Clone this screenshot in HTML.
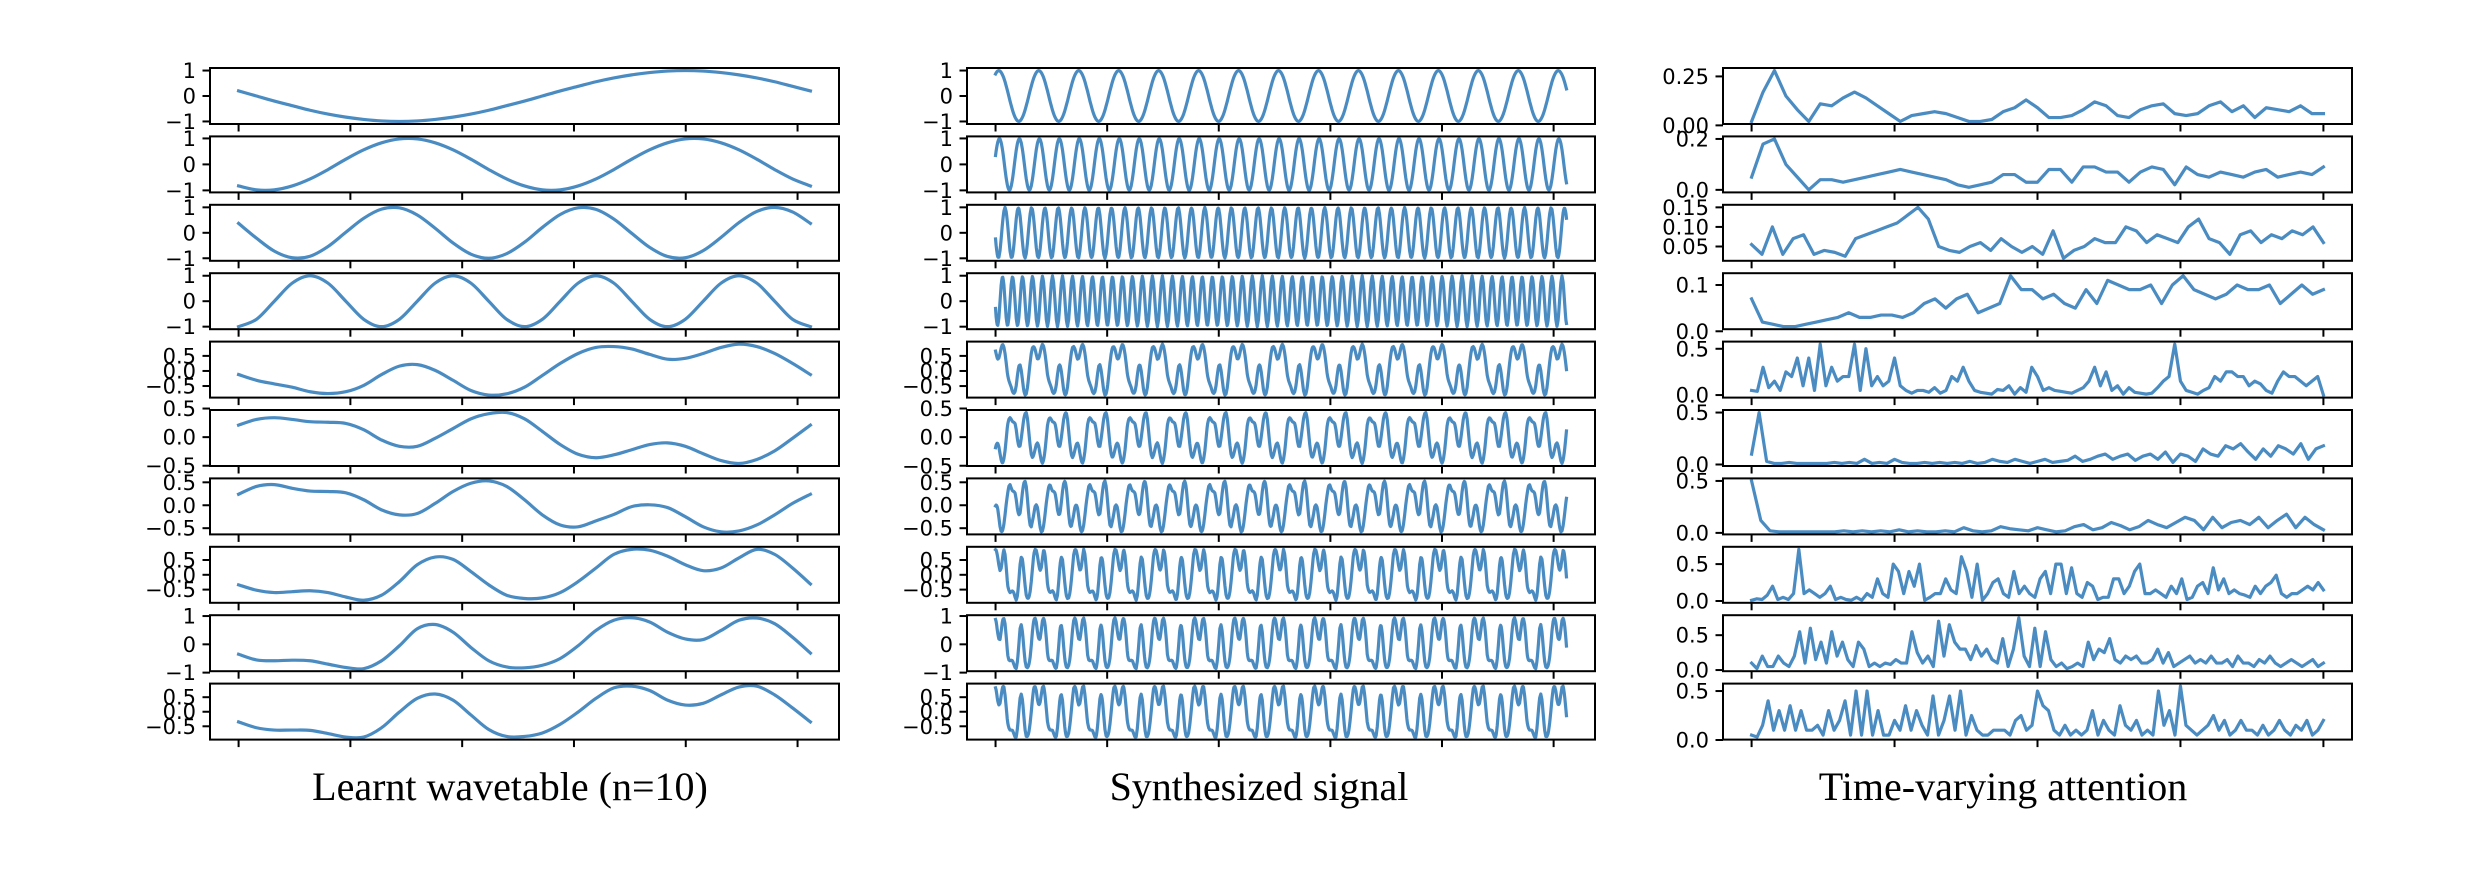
<!DOCTYPE html>
<html><head><meta charset="utf-8"><style>
html,body{margin:0;padding:0;background:#fff;}
svg{display:block;}
</style></head><body>
<svg id="fig" xmlns="http://www.w3.org/2000/svg" width="2480" height="878" viewBox="0 0 2480 878">
<rect x="0" y="0" width="2480" height="878" fill="#fff"/>
<g id="panels"></g>
<text x="510" y="800" text-anchor="middle" font-family="Liberation Serif, serif" font-size="40">Learnt wavetable (n=10)</text>
<text x="1259" y="800" text-anchor="middle" font-family="Liberation Serif, serif" font-size="40">Synthesized signal</text>
<text x="2003" y="800" text-anchor="middle" font-family="Liberation Serif, serif" font-size="40">Time-varying attention</text>
</svg>
<script>
// ---- wavetables (33 samples over one table period) ----
const wave1=[0.20,0,-0.20,-0.38,-0.56,-0.71,-0.83,-0.92,-0.98,-1,-0.98,-0.92,-0.83,-0.71,-0.56,-0.38,-0.20,0,0.20,0.38,0.56,0.71,0.83,0.92,0.98,1,0.98,0.92,0.83,0.71,0.56,0.38,0.20];
const wave2=[-0.83,-0.98,-0.98,-0.83,-0.56,-0.20,0.20,0.56,0.83,0.98,0.98,0.83,0.56,0.20,-0.20,-0.56,-0.83,-0.98,-0.98,-0.83,-0.56,-0.20,0.20,0.56,0.83,0.98,0.98,0.83,0.56,0.20,-0.20,-0.56,-0.83];
const wave3=[0.37,-0.21,-0.72,-0.98,-0.92,-0.54,0.02,0.57,0.93,0.98,0.70,0.18,-0.40,-0.84,-1.0,-0.82,-0.37,0.21,0.72,0.98,0.92,0.54,-0.02,-0.57,-0.93,-0.98,-0.70,-0.18,0.40,0.84,1.0,0.82,0.37];
const wave4=[-1,-0.71,0,0.71,1,0.71,0,-0.71,-1,-0.71,0,0.71,1,0.71,0,-0.71,-1,-0.71,0,0.71,1,0.71,0,-0.71,-1,-0.71,0,0.71,1,0.71,0,-0.71,-1];
const wave5=[-0.12,-0.31,-0.43,-0.54,-0.69,-0.75,-0.69,-0.48,-0.12,0.16,0.21,0.02,-0.31,-0.65,-0.80,-0.76,-0.54,-0.15,0.25,0.58,0.78,0.81,0.73,0.55,0.39,0.42,0.58,0.78,0.89,0.81,0.58,0.25,-0.12];
const wave6=[0.21,0.31,0.34,0.31,0.27,0.26,0.24,0.13,-0.05,-0.16,-0.16,-0.02,0.15,0.32,0.41,0.43,0.32,0.10,-0.13,-0.30,-0.36,-0.31,-0.22,-0.13,-0.10,-0.16,-0.29,-0.41,-0.46,-0.39,-0.24,-0.02,0.21];
const wave7=[0.24,0.41,0.45,0.37,0.31,0.30,0.27,0.12,-0.10,-0.21,-0.18,0.04,0.30,0.48,0.53,0.41,0.12,-0.21,-0.43,-0.47,-0.34,-0.20,-0.03,0.01,-0.05,-0.25,-0.47,-0.58,-0.56,-0.43,-0.21,0.04,0.24];
const wave8=[-0.34,-0.52,-0.60,-0.57,-0.54,-0.60,-0.75,-0.86,-0.69,-0.23,0.34,0.60,0.52,0.11,-0.34,-0.69,-0.80,-0.78,-0.60,-0.23,0.23,0.69,0.86,0.83,0.63,0.34,0.14,0.23,0.57,0.86,0.69,0.23,-0.31];
const wave9=[-0.35,-0.55,-0.58,-0.56,-0.58,-0.70,-0.82,-0.86,-0.58,-0.05,0.55,0.70,0.43,-0.11,-0.58,-0.80,-0.83,-0.74,-0.50,-0.05,0.49,0.85,0.94,0.79,0.43,0.19,0.17,0.49,0.85,0.93,0.73,0.25,-0.31];
const wave10=[-0.35,-0.55,-0.63,-0.63,-0.64,-0.75,-0.87,-0.87,-0.55,-0.01,0.46,0.61,0.40,-0.11,-0.61,-0.85,-0.85,-0.73,-0.43,-0.01,0.46,0.82,0.88,0.73,0.40,0.23,0.29,0.58,0.85,0.88,0.58,0.13,-0.35];
// ---- synthesis parameters ----
const synthCycles=14.3;
const synthPhase=0.7;
const synthLength=1024;
// ---- attention weights ----
const attn1=[.02,.17,.28,.15,.08,.02,.11,.1,.14,.17,.14,.1,.06,.02,.05,.06,.07,.06,.04,.02,.02,.03,.07,.09,.13,.09,.04,.04,.05,.08,.12,.1,.05,.04,.08,.1,.11,.06,.05,.06,.1,.12,.07,.1,.04,.09,.08,.07,.1,.06,.06];
const attn2=[.05,.18,.2,.1,.05,.0,.04,.04,.03,.04,.05,.06,.07,.08,.07,.06,.05,.04,.02,.01,.02,.03,.06,.06,.03,.03,.08,.08,.03,.09,.09,.07,.07,.03,.07,.09,.08,.02,.09,.06,.05,.07,.06,.05,.07,.08,.05,.06,.07,.06,.09];
const attn3=[.055,.03,.1,.03,.07,.08,.03,.04,.035,.025,.07,.08,.09,.1,.11,.13,.15,.12,.05,.04,.035,.05,.06,.04,.07,.05,.035,.05,.03,.09,.02,.04,.05,.07,.06,.06,.1,.09,.06,.08,.07,.06,.1,.12,.07,.06,.03,.08,.09,.06,.08,.07,.09,.08,.1,.06];
const attn4=[.07,.02,.015,.01,.01,.015,.02,.025,.03,.04,.03,.03,.035,.035,.03,.04,.06,.07,.05,.07,.08,.04,.05,.06,.12,.09,.09,.07,.08,.06,.05,.09,.06,.11,.1,.09,.09,.1,.06,.1,.12,.09,.08,.07,.08,.1,.09,.09,.1,.06,.08,.1,.08,.09];
const attn5=[.05,.04,.3,.08,.15,.05,.25,.2,.4,.1,.4,.05,.55,.1,.3,.15,.2,.2,.55,.05,.5,.1,.2,.1,.15,.4,.1,.05,.02,.05,.05,.03,.08,.02,.05,.2,.15,.3,.15,.05,.03,.02,.01,.06,.05,.1,.01,.08,.03,.3,.2,.05,.08,.05,.04,.03,.02,.05,.08,.15,.3,.1,.25,.05,.1,.01,.08,.03,.02,.01,.02,.08,.15,.2,.55,.15,.05,.03,.01,.05,.08,.2,.15,.25,.25,.2,.2,.1,.15,.12,.05,.02,.15,.25,.2,.2,.15,.1,.15,.2,0];
const attn6=[.1,.5,.03,.01,.01,.02,.01,.01,.01,.01,.01,.02,.01,.02,.01,.05,.01,.02,.01,.05,.02,.01,.01,.02,.01,.02,.01,.02,.01,.03,.01,.02,.05,.03,.02,.05,.03,.01,.03,.05,.02,.03,.04,.08,.03,.05,.08,.1,.05,.08,.1,.04,.08,.1,.05,.12,.02,.1,.08,.03,.15,.1,.08,.18,.15,.2,.12,.05,.15,.08,.18,.15,.1,.2,.05,.15,.18];
const attn7=[.5,.12,.02,.01,.01,.01,.01,.01,.01,.01,.02,.01,.02,.01,.02,.01,.03,.01,.02,.01,.01,.02,.01,.05,.02,.01,.02,.06,.04,.03,.02,.05,.03,.01,.02,.06,.08,.03,.05,.1,.07,.03,.06,.12,.08,.05,.1,.15,.12,.03,.15,.05,.1,.12,.08,.15,.05,.12,.18,.05,.15,.08,.03];
const attn8=[.01,.03,.02,.08,.2,.02,.05,.02,.1,.7,.1,.15,.1,.05,.1,.2,.02,.05,.02,.01,.05,.01,.1,.05,.3,.1,.05,.5,.4,.1,.4,.2,.5,.01,.05,.1,.1,.3,.15,.1,.6,.4,.05,.5,.01,.1,.25,.3,.1,.05,.4,.1,.2,.1,.05,.3,.4,.1,.5,.5,.1,.45,.1,.05,.25,.2,.02,.05,.05,.3,.3,.1,.2,.4,.5,.1,.1,.15,.1,.05,.2,.1,.3,.02,.05,.2,.25,.1,.45,.15,.3,.1,.15,.1,.08,.05,.2,.1,.2,.25,.35,.1,.05,.1,.1,.15,.2,.15,.25,.15];
const attn9=[.1,.02,.2,.05,.05,.2,.1,.05,.2,.55,.1,.6,.15,.4,.1,.55,.2,.4,.15,.05,.4,.3,.05,.1,.05,.1,.08,.15,.1,.1,.55,.25,.1,.2,.05,.7,.2,.65,.4,.3,.3,.15,.35,.2,.3,.15,.1,.45,.05,.3,.75,.2,.05,.6,.05,.55,.15,.05,.1,.02,.05,.1,.05,.4,.15,.3,.25,.45,.15,.1,.2,.15,.2,.1,.1,.15,.3,.1,.25,.05,.1,.15,.2,.1,.15,.1,.2,.1,.1,.15,.05,.2,.1,.1,.05,.15,.1,.2,.1,.05,.1,.15,.1,.05,.1,.15,.05,.1];
const attn10=[.05,.03,.15,.4,.1,.3,.1,.35,.1,.3,.1,.1,.15,.05,.3,.1,.2,.4,.05,.5,.05,.5,.05,.3,.05,.05,.2,.1,.35,.1,.3,.15,.05,.45,.05,.2,.45,.1,.5,.05,.25,.1,.05,.05,.1,.1,.1,.05,.2,.25,.1,.15,.5,.35,.3,.1,.05,.15,.05,.1,.05,.1,.3,.05,.2,.1,.05,.35,.15,.1,.2,.05,.1,.05,.5,.15,.3,.05,.55,.15,.1,.05,.1,.15,.25,.1,.2,.05,.1,.2,.1,.1,.05,.15,.05,.1,.2,.1,.05,.15,.1,.2,.05,.1,.2];
// ---- tick arrays ----
const xTicksWave=[0,200,400,600,800,1000];
const xTicksAttn=[0,50,100,150,200];
const yTicksWave=[[-1,0,1],[-1,0,1],[-1,0,1],[-1,0,1],[-0.5,0,0.5],[-0.5,0,0.5],[-0.5,0,0.5],[-0.5,0,0.5],[-1,0,1],[-0.5,0,0.5]];
const yLabelsWave=[["−1","0","1"],["−1","0","1"],["−1","0","1"],["−1","0","1"],["−0.5","0.0","0.5"],["−0.5","0.0","0.5"],["−0.5","0.0","0.5"],["−0.5","0.0","0.5"],["−1","0","1"],["−0.5","0.0","0.5"]];
const yTicksAttn=[[0,0.25],[0,0.2],[0.05,0.10,0.15],[0,0.1],[0,0.5],[0,0.5],[0,0.5],[0,0.5],[0,0.5],[0,0.5]];
const yLabelsAttn=[["0.00","0.25"],["0.0","0.2"],["0.05","0.10","0.15"],["0.0","0.1"],["0.0","0.5"],["0.0","0.5"],["0.0","0.5"],["0.0","0.5"],["0.0","0.5"],["0.0","0.5"]];

const waves=[wave1,wave2,wave3,wave4,wave5,wave6,wave7,wave8,wave9,wave10];
const attns=[attn1,attn2,attn3,attn4,attn5,attn6,attn7,attn8,attn9,attn10];

const NS="http://www.w3.org/2000/svg";
const root=document.getElementById('panels');
const colX=[[210,839],[967,1595],[1723,2352]];
const TOP=68, PITCH=68.4, H=56, LINE="#4a8cc2";

function mk(tag,attrs,parent){const e=document.createElementNS(NS,tag);for(const k in attrs)e.setAttribute(k,attrs[k]);parent.appendChild(e);return e;}

function smoothPath(pts){
  let d="M"+pts[0][0].toFixed(2)+","+pts[0][1].toFixed(2);
  for(let i=0;i<pts.length-1;i++){
    const p0=pts[Math.max(0,i-1)],p1=pts[i],p2=pts[i+1],p3=pts[Math.min(pts.length-1,i+2)];
    const c1=[p1[0]+(p2[0]-p0[0])/6,p1[1]+(p2[1]-p0[1])/6];
    const c2=[p2[0]-(p3[0]-p1[0])/6,p2[1]-(p3[1]-p1[1])/6];
    d+="C"+c1[0].toFixed(2)+","+c1[1].toFixed(2)+" "+c2[0].toFixed(2)+","+c2[1].toFixed(2)+" "+p2[0].toFixed(2)+","+p2[1].toFixed(2);
  }
  return d;
}
function linePath(pts){return "M"+pts.map(p=>p[0].toFixed(2)+","+p[1].toFixed(2)).join("L");}

function panel(col,row,xs,ys,xDom,xTicks,yTicks,yLabels,smooth,name){
  const [x0,x1]=colX[col];
  const top=TOP+row*PITCH, bot=top+H;
  let mn=Math.min(...ys), mx=Math.max(...ys); const r=(mx-mn)||1;
  const yMin=mn-0.05*r, yMax=mx+0.05*r;
  const sx=v=>x0+(v-xDom[0])/(xDom[1]-xDom[0])*(x1-x0);
  const sy=v=>bot-(v-yMin)/(yMax-yMin)*H;
  const g=mk('g',{},root);
  
  
  const clipId='c'+col+'_'+row;
  const cp=mk('clipPath',{id:clipId},g); mk('rect',{x:x0,y:top,width:x1-x0,height:H},cp);
  const pts=xs.map((x,i)=>[sx(x),sy(ys[i])]);
  const path=mk('path',{d:smooth?smoothPath(pts):linePath(pts),fill:'none',stroke:LINE,'stroke-width':3.2,'stroke-linejoin':'round','stroke-linecap':'square','clip-path':'url(#'+clipId+')'},g);
  
  
  const fr=mk('rect',{x:x0,y:top,width:x1-x0,height:H,fill:'none',stroke:'#000','stroke-width':2},g);
  
  
  xTicks.forEach(t=>{const x=sx(t);const tk=mk('line',{x1:x,x2:x,y1:bot,y2:bot+7.5,stroke:'#000','stroke-width':2},g);
    
    });
  const tol=0.04*(yMax-yMin);
  yTicks.forEach((t,i)=>{
    if(t<yMin-tol||t>yMax+tol)return;
    const y=sy(t);
    const tk=mk('line',{x1:x0-7.5,x2:x0,y1:y,y2:y,stroke:'#000','stroke-width':2},g);
    
    
    const tx=mk('text',{x:x0-14,y:y+7.5,'text-anchor':'end','font-family':'DejaVu Sans, sans-serif','font-size':21},g);
    tx.textContent=yLabels[i];
    
    
  });
}

for(let r=0;r<10;r++){
  const w=waves[r];
  const n=w.length-1;
  const xsW=w.map((v,k)=>k*1023/n);
  panel(0,r,xsW,w,[-51.15,1074.15],xTicksWave,yTicksWave[r],yLabelsWave[r],true,'wavetable-row-'+(r+1));
  const xsS=[],ysS=[];
  for(let i=0;i<synthLength;i++){
    const p=((synthPhase+i*synthCycles/synthLength)%1)*n;
    const k=Math.floor(p), f=p-k;
    ysS.push(w[k]+(w[Math.min(k+1,n)]-w[k])*f);
    xsS.push(i);
  }
  panel(1,r,xsS,ysS,[-51.15,1074.15],xTicksWave,yTicksWave[r],yLabelsWave[r],false,'synthesized-row-'+(r+1));
  const a=attns[r];
  const xsA=a.map((v,i)=>i*200/(a.length-1));
  panel(2,r,xsA,a,[-10,210],xTicksAttn,yTicksAttn[r],yLabelsAttn[r],false,'attention-row-'+(r+1));
}
</script>
</body></html>
